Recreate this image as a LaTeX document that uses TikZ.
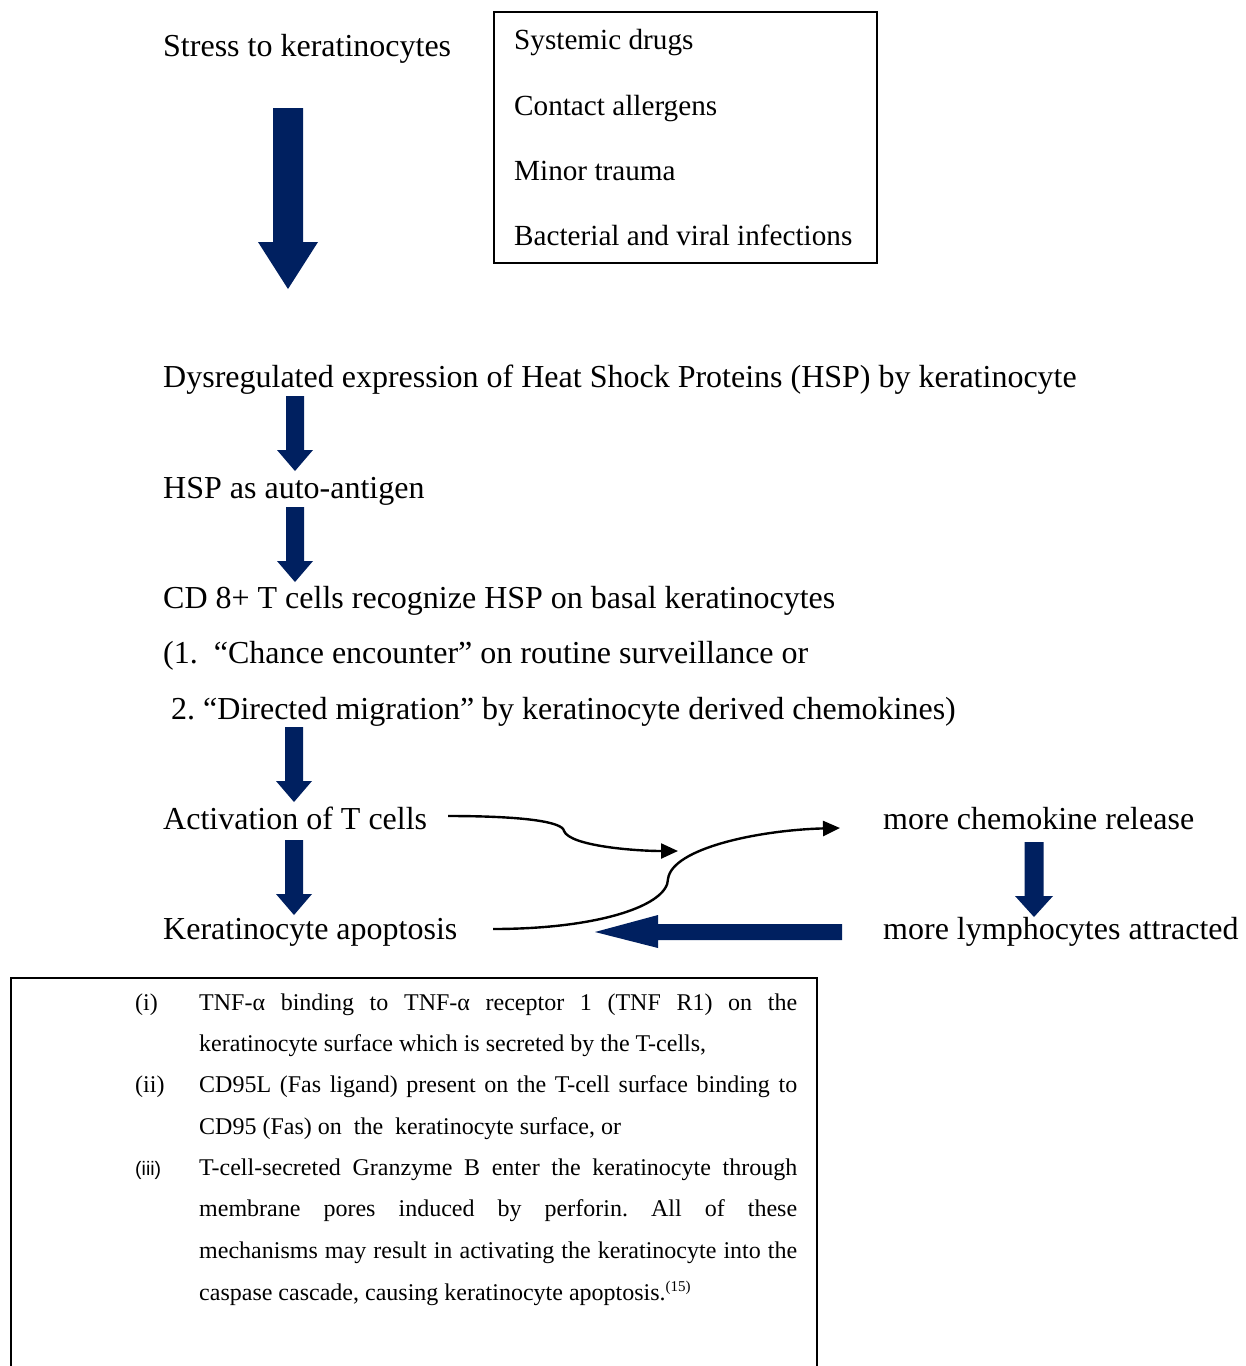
\documentclass[tikz,border=0pt]{standalone}
\usepackage{fontspec}
\setmainfont{Liberation Serif}
\newfontfamily\boxsans{Liberation Sans}
\usetikzlibrary{arrows.meta}
\definecolor{navy}{RGB}{0,32,96}
\frenchspacing
\newcommand\blockdown[6]{% cx, top, headbase, tip, shafthalf, headhalf
  \fill[navy] ({#1-#5},#2) -- ({#1+#5},#2) -- ({#1+#5},#3) -- ({#1+#6},#3) -- (#1,#4) -- ({#1-#6},#3) -- ({#1-#5},#3) -- cycle;}
\begin{document}
\begin{tikzpicture}[x=1pt,y=-1pt,
  txt/.style={anchor=base west, inner sep=0pt, font=\fontsize{32}{38}\selectfont},
  ctxt/.style={anchor=base west, inner sep=0pt, font=\fontsize{29.2}{34}\selectfont},
  btxt/.style={anchor=base west, inner sep=0pt, font=\fontsize{24}{28}\selectfont},
  lbl/.style={anchor=base west, inner sep=0pt, font=\fontsize{24}{28}\selectfont},
  curvearrow/.style={line width=2.4pt, -{Triangle[length=17pt,width=15pt]}},
]
\useasboundingbox (0,0) rectangle (1246,1366);
\fill[white] (0,0) rectangle (1246,1366);

% top
\node[txt] (stress) at (163,56) {Stress to keratinocytes};
\node[draw, line width=1.5pt, inner sep=0pt, minimum width=383pt, minimum height=251pt, anchor=north west] (causes) at (493,11) {};
\node[ctxt] (c1) at (514,49) {Systemic drugs};
\node[ctxt] (c2) at (514,115) {Contact allergens};
\node[ctxt] (c3) at (514,180) {Minor trauma};
\node[ctxt] (c4) at (514,245) {Bacterial and viral infections};

\blockdown{288}{108}{242}{289}{15}{30}

\node[txt] (hsp) at (163,387) {Dysregulated expression of Heat Shock Proteins (HSP) by keratinocyte};
\blockdown{295}{396}{450}{471}{9}{18}
\node[txt] (auto) at (163,498) {HSP as auto-antigen};
\blockdown{295}{507}{561}{582}{9}{18}
\node[txt] (cd8) at (163,608) {CD 8+ T cells recognize HSP on basal keratinocytes};
\node[txt] (enc1) at (163,663) {(1.\hspace{0.5em}“Chance encounter” on routine surveillance or};
\node[txt] (enc2) at (171,719) {2. “Directed migration” by keratinocyte derived chemokines)};
\blockdown{294}{727}{781}{802}{9}{18}
\node[txt] (act) at (163,829) {Activation of T cells};
\blockdown{294}{840}{894}{915}{9}{18}
\node[txt] (apo) at (163,939) {Keratinocyte apoptosis};

\node[txt] (chem) at (883,829) {more chemokine release};
\blockdown{1034}{842}{896}{917}{9.5}{19}
\node[txt] (lymph) at (883,939) {more lymphocytes attracted};

% left block arrow
\fill[navy] (842,924) -- (842,940) -- (658,940) -- (658,948) -- (595,932) -- (658,915) -- (658,924) -- cycle;

% curved arrows
\coordinate (a1s) at (448,816);
\coordinate (a1e) at (678,851);
\coordinate (a2s) at (493,929);
\coordinate (a2e) at (840,828);
\draw[curvearrow] (a1s) .. controls (525,816) and (563,822) .. (564,831) .. controls (570,846) and (635,851) .. (a1e);
\draw[curvearrow] (a2s) .. controls (600,929) and (668,905) .. (668,879) .. controls (672,848) and (760,830) .. (a2e);

% bottom box
\draw[line width=1.8pt] (11,1380) -- (11,978) -- (817,978) -- (817,1380);
\node[lbl] (n1) at (135,1010) {(i)};
\node[btxt] (l1) at (199,1010) {\makebox[598pt][s]{TNF-α binding to TNF-α receptor 1 (TNF R1) on the}};
\node[btxt] (l2) at (199,1051) {keratinocyte surface which is secreted by the T-cells,};
\node[lbl] (n2) at (135,1092) {(ii)};
\node[btxt] (l3) at (199,1092) {\makebox[598pt][s]{CD95L (Fas ligand) present on the T-cell surface binding to}};
\node[btxt] (l4) at (199,1134) {CD95 (Fas) on\ \ the\ \ keratinocyte surface, or};
\node[anchor=base west, inner sep=0pt, font=\boxsans\fontsize{19.5}{22}\selectfont] (n3) at (135,1175) {(iii)};
\node[btxt] (l5) at (199,1175) {\makebox[598pt][s]{T-cell-secreted Granzyme B enter the keratinocyte through}};
\node[btxt] (l6) at (199,1216) {\makebox[598pt][s]{membrane pores induced by perforin. All of these}};
\node[btxt] (l7) at (199,1258) {\makebox[598pt][s]{mechanisms may result in activating the keratinocyte into the}};
\node[btxt] (l8) at (199,1300) {caspase cascade, causing keratinocyte apoptosis.\raisebox{9pt}{\fontsize{15}{17}\selectfont (15)}};
\end{tikzpicture}
\end{document}
